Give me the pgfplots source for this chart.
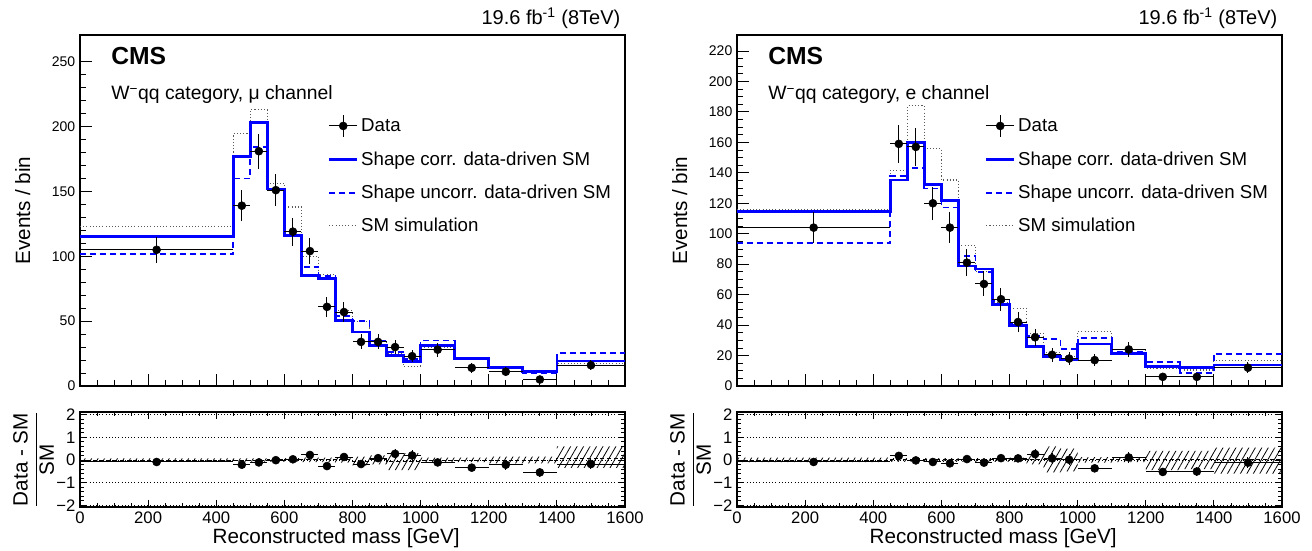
\documentclass[border=0pt]{standalone}
\usepackage{fontspec}
\setmainfont{Liberation Sans}
\usepackage{pgfplots}
\usepackage{pgfplotstable}
\pgfplotsset{compat=1.18}
\usetikzlibrary{patterns.meta}

% ---------- histograms (bin lower edges; last row repeats last bin) ----------
\pgfplotstableread{
edge corr uncorr sim
0    115   101.5 123
450  177   160   194.5
500  203   184   213
550  152   152   156
600  116   116   138
650  85    92    100
700  83    85    86
750  50.5  54    58
800  41.6  50    50
850  31.4  35    34
900  23.7  26    25
950  19.1  21    15.3
1000 31.4  35    29.5
1100 21.2  22    22
1200 14.3  14.8  15.3
1300 11    9.7   12
1400 19.4  25.5  17.3
1600 19.4  25.5  17.3
}\histL

\pgfplotstableread{
edge corr uncorr sim
0    114.5 93.7  116
450  135.3 137.9 141.6
500  159.8 143   184
550  132.2 129.7 155.8
600  121.7 117.3 135.3
650  78.7  85.4  92.5
700  76.9  74.7  75
750  53.4  55.6  55
800  39.8  41.3  51
850  25.9  33    34.7
900  19.3  30.8  22
950  17.6  24.4  19.5
1000 27.5  31.4  35.8
1100 21.5  22.6  23.7
1200 12.7  15.6  11.6
1300 12.1  8.4   10.5
1400 13.8  21.1  16.7
1600 13.8  21.1  16.7
}\histR

% ---------- data: x, y, x-err, y-err, ratio, ratio-err ----------
\pgfplotstableread{
x    y    ex   ey    r     er
225  105  225  10.2  -0.09 0.09
475  139  25   11.8  -0.21 0.067
525  181  25   13.5  -0.11 0.066
575  151  25   12.3  -0.01 0.08
625  119  25   10.9  0.03  0.094
675  104  25   10.2  0.22  0.12
725  61   25   7.8   -0.27 0.094
775  57   25   7.5   0.13  0.15
825  34   25   5.8   -0.18 0.14
875  34   25   5.8   0.08  0.185
925  30   25   5.5   0.27  0.23
975  23   25   4.8   0.20  0.25
1050 28   50   5.3   -0.11 0.17
1150 14   50   3.7   -0.34 0.17
1250 11   50   3.3   -0.21 0.23
1350 5    50   2.2   -0.55 0.2
1500 16   100  4.0   -0.18 0.21
}\dataL

\pgfplotstableread{
x    y    ex   ey    r     er
225  104  225  10.2  -0.09 0.09
475  159  25   12.6  0.18  0.093
525  157  25   12.5  -0.02 0.078
575  120  25   11.0  -0.09 0.083
625  104  25   10.2  -0.15 0.084
675  81   25   9.0   0.04  0.114
725  67   25   8.2   -0.12 0.107
775  57   25   7.5   0.08  0.14
825  42   25   6.5   0.07  0.16
875  32   25   5.7   0.26  0.22
925  20.5 25   4.5   0.07  0.23
975  18   25   4.2   0.01  0.24
1050 17   50   4.1   -0.37 0.15
1150 24   50   4.9   0.11  0.23
1250 6    50   2.4   -0.53 0.19
1350 6    50   2.4   -0.51 0.2
1500 12   100  3.5   -0.12 0.25
}\dataR

% ---------- ratio uncertainty bands: outline (upper edge left->right, lower edge right->left) ----------
\pgfplotstableread{
x    y
0    0.07
450  0.07
500  0.07
550  0.08
600  0.08
650  0.10
700  0.10
750  0.12
800  0.15
850  0.20
900  0.30
950  0.30
1000 0.10
1100 0.10
1200 0.15
1300 0.15
1400 0.60
1600 0.60
1600 -0.35
1400 -0.15
1300 -0.15
1200 -0.10
1100 -0.10
1000 -0.45
950  -0.45
900  -0.20
850  -0.25
800  -0.12
750  -0.10
700  -0.10
650  -0.08
600  -0.08
550  -0.07
500  -0.07
450  -0.07
0    -0.07
}\bandL

\pgfplotstableread{
x    y
0    0.10
450  0.08
500  0.08
550  0.08
600  0.08
650  0.08
700  0.08
750  0.08
800  0.10
850  0.20
900  0.60
950  0.50
1000 0.12
1100 0.10
1200 0.40
1300 0.40
1400 0.55
1600 0.55
1600 -0.60
1400 -0.40
1300 -0.45
1200 -0.10
1100 -0.12
1000 -0.50
950  -0.55
900  -0.20
850  -0.10
800  -0.08
750  -0.08
700  -0.08
650  -0.08
600  -0.08
550  -0.08
500  -0.08
450  -0.10
0    -0.10
}\bandR

% central line of the bands
\pgfplotstableread{
edge midL midR
0    -0.03 -0.03
450  -0.03 0
550  0     0
800  -0.05 0
850  0     0
900  -0.05 0
1000 -0.02 0
1400 0.05  0
1600 0.05  0
}\bandmid

\definecolor{simgray}{gray}{0.35}

\pgfplotsset{
  topaxis/.style={
    scale only axis, width=408.75pt, height=263.25pt,
    xmin=0, xmax=1600, ymin=0, clip mode=individual,
    xtick={0,200,...,1600}, xticklabels={}, minor x tick num=3,
    xtick pos=left, ytick pos=left, tick align=inside,
    major tick length=9pt, minor tick length=4.5pt,
    tick style={black, line width=0.6pt},
    axis line style={line width=0.8pt},
    yticklabel style={font=\fontsize{10.5}{12}\selectfont},
    ylabel={Events / bin},
    ylabel style={font=\fontsize{15.5}{18}\selectfont, at={(axis description cs:-0.105,0.5)}, anchor=center},
    legend style={at={(axis description cs:0.447,0.781)}, anchor=north west, draw=none, fill=none,
      font=\fontsize{14}{16}\selectfont, row sep=9.1pt},
    legend cell align=left,
  },
  ratioaxis/.style={
    scale only axis, width=408.75pt, height=71.25pt,
    xmin=0, xmax=1600, ymin=-2.08, ymax=2.12,
    xtick={0,200,...,1600}, xticklabels={0,200,400,600,800,1000,1200,1400,1600},
    minor x tick num=3,
    ytick={-2,-1,0,1,2}, yticklabels={−2,−1,0,1,2}, minor y tick num=4,
    tick pos=both, tick align=inside,
    major tick length=5.5pt, minor tick length=2.8pt,
    tick style={black, line width=0.6pt},
    axis line style={line width=0.8pt},
    ymajorgrids, grid style={black, dotted, line width=0.6pt},
    ticklabel style={font=\fontsize{12.5}{14}\selectfont},
    xlabel={Reconstructed mass [GeV]},
    xlabel style={font=\fontsize{15.5}{18}\selectfont, at={(axis description cs:0.47,0)}, anchor=center, yshift=-23pt},
    ylabel={$\displaystyle\frac{\mbox{Data - SM}}{\mbox{SM}}$},
    ylabel style={font=\fontsize{15.5}{18}\selectfont, at={(axis description cs:-0.085,0.5)}, anchor=center},
  },
  databars/.style={
    only marks, mark=*, mark size=3pt, black,
    error bars/x dir=both, error bars/x explicit,
    error bars/y dir=both, error bars/y explicit,
    error bars/error mark=none,
    error bars/error bar style={line width=0.75pt, black},
  },
  corrstyle/.style={const plot, blue, line width=2pt},
  uncorrstyle/.style={const plot, blue, line width=1.3pt, dash pattern=on 4.5pt off 3pt},
  simstyle/.style={const plot, simgray, line width=0.8pt, dash pattern=on 0.8pt off 1.6pt},
  bandstyle/.style={const plot, draw=none, pattern={Lines[angle=60, distance=4.2pt, line width=0.6pt]}, pattern color=black},
}

\newcommand{\legendentries}{%
  \addlegendimage{legend image code/.code={
    \draw[black, line width=0.75pt] (0pt,0pt) -- (21pt,0pt);
    \draw[black, line width=0.75pt] (10.5pt,-8pt) -- (10.5pt,8pt);
    \fill[black] (10.5pt,0pt) circle (3pt);}}
  \addlegendentry{Data}
  \addlegendimage{legend image code/.code={\draw[blue, line width=2pt] (0pt,0pt) -- (21pt,0pt);}}
  \addlegendentry{Shape corr. data-driven SM}
  \addlegendimage{legend image code/.code={\draw[blue, line width=1.3pt, dash pattern=on 4.5pt off 3pt] (0pt,0pt) -- (21pt,0pt);}}
  \addlegendentry{Shape uncorr. data-driven SM}
  \addlegendimage{legend image code/.code={\draw[simgray, line width=0.8pt, dash pattern=on 0.8pt off 1.6pt] (0pt,0pt) -- (21pt,0pt);}}
  \addlegendentry{SM simulation}
}

\begin{document}
\begin{tikzpicture}
\useasboundingbox (0,0) rectangle (984pt,412.5pt);

% ================= LEFT: mu channel =================
\begin{axis}[topaxis, at={(60pt,123pt)}, anchor=south west,
  ymax=270.6, ytick={0,50,...,250}, yticklabels={0,50,100,150,200,250}, minor y tick num=4]
  \legendentries
  \addplot[forget plot, simstyle] table[x=edge, y=sim] {\histL};
  \addplot[forget plot, uncorrstyle] table[x=edge, y=uncorr] {\histL};
  \addplot[forget plot, corrstyle] table[x=edge, y=corr] {\histL};
  \addplot[forget plot, databars] table[x=x, y=y, x error=ex, y error=ey] {\dataL};
  \node[anchor=base west, font=\fontsize{18.5}{20}\selectfont\bfseries] at (axis description cs:0,1) [xshift=20pt, yshift=-22.5pt] {CMS};
  \node[anchor=base west, font=\fontsize{14.5}{16}\selectfont] at (axis description cs:0,1) [xshift=20pt, yshift=-48.75pt] {W\textsuperscript{−}qq category, μ channel};
  \node[anchor=base east, font=\fontsize{15}{17}\selectfont] at (axis description cs:1,1) [xshift=0pt, yshift=8pt] {19.6 fb\textsuperscript{-1} (8TeV)};
\end{axis}

\begin{axis}[ratioaxis, at={(60pt,32.25pt)}, anchor=south west]
  \addplot[forget plot, bandstyle] table[x=x, y=y] {\bandL};
  \addplot[forget plot, const plot, black, line width=0.8pt, dash pattern=on 3pt off 2pt] table[x=edge, y=midL] {\bandmid};
  \addplot[forget plot, databars] table[x=x, y=r, x error=ex, y error=er] {\dataL};
\end{axis}

% ================= RIGHT: e channel =================
\begin{axis}[topaxis, at={(552.75pt,123pt)}, anchor=south west,
  ymax=230.5, ytick={0,20,...,220}, yticklabels={0,20,40,60,80,100,120,140,160,180,200,220}, minor y tick num=3]
  \legendentries
  \addplot[forget plot, simstyle] table[x=edge, y=sim] {\histR};
  \addplot[forget plot, uncorrstyle] table[x=edge, y=uncorr] {\histR};
  \addplot[forget plot, corrstyle] table[x=edge, y=corr] {\histR};
  \addplot[forget plot, databars] table[x=x, y=y, x error=ex, y error=ey] {\dataR};
  \node[anchor=base west, font=\fontsize{18.5}{20}\selectfont\bfseries] at (axis description cs:0,1) [xshift=20pt, yshift=-22.5pt] {CMS};
  \node[anchor=base west, font=\fontsize{14.5}{16}\selectfont] at (axis description cs:0,1) [xshift=20pt, yshift=-48.75pt] {W\textsuperscript{−}qq category, e channel};
  \node[anchor=base east, font=\fontsize{15}{17}\selectfont] at (axis description cs:1,1) [xshift=0pt, yshift=8pt] {19.6 fb\textsuperscript{-1} (8TeV)};
\end{axis}

\begin{axis}[ratioaxis, at={(552.75pt,32.25pt)}, anchor=south west]
  \addplot[forget plot, bandstyle] table[x=x, y=y] {\bandR};
  \addplot[forget plot, const plot, black, line width=0.8pt, dash pattern=on 3pt off 2pt] table[x=edge, y=midR] {\bandmid};
  \addplot[forget plot, databars] table[x=x, y=r, x error=ex, y error=er] {\dataR};
\end{axis}
\end{tikzpicture}
\end{document}
